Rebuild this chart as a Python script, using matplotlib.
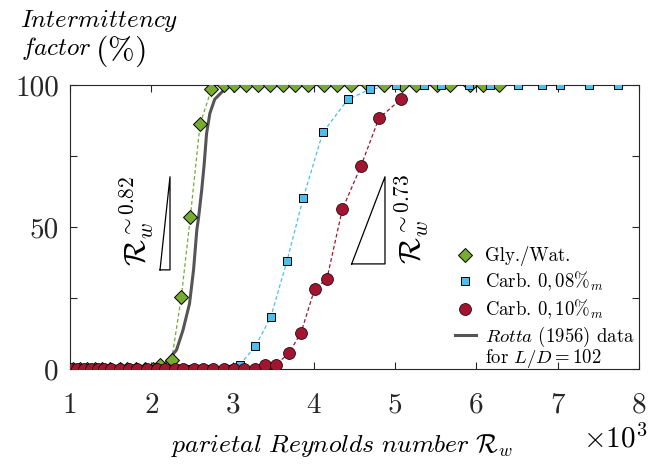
import numpy as np
import matplotlib
matplotlib.use("Agg")
import matplotlib.pyplot as plt

plt.rcParams["font.family"] = "serif"
plt.rcParams["font.serif"] = ["cmr10"]
plt.rcParams["mathtext.fontset"] = "cm"
plt.rcParams["axes.formatter.use_mathtext"] = True
plt.rcParams["axes.unicode_minus"] = False

# Gly./Wat. (x in 10^3)
gly_x = [1.04, 1.12, 1.21, 1.31, 1.39, 1.49, 1.61, 1.70, 1.81, 1.92, 2.02, 2.11, 2.25,
         2.37, 2.48, 2.60, 2.74, 2.89, 3.02, 3.16, 3.31, 3.46, 3.62, 3.77, 3.93, 4.12,
         4.29, 4.46, 4.67, 4.86, 5.08, 5.26, 5.51, 5.68, 5.92, 6.08, 6.28]
gly_y = [0, 0, 0, 0, 0, 0, 0, 0, 0, 0, 0, 1.5, 3.2,
         25.5, 53.6, 86.3, 98.5, 100, 100, 100, 100, 100, 100, 100, 100, 100,
         100, 100, 100, 100, 100, 100, 100, 100, 100, 100, 100]

# Carb. 0,08%
c08_x = [1.0, 1.2, 1.4, 1.6, 1.8, 2.0, 2.2, 2.45, 2.7, 2.94, 3.09, 3.28, 3.47, 3.67,
         3.87, 4.11, 4.42, 4.69, 5.01, 5.35, 5.56, 5.91, 6.17, 6.51, 6.81, 7.03, 7.39, 7.74]
c08_y = [0, 0, 0, 0, 0, 0, 0, 0, 0, 0, 1.5, 8.0, 18.3, 38.1,
         60.3, 83.3, 95.0, 98.5, 100, 100, 100, 100, 100, 100, 100, 100, 100, 100]

# Carb. 0,10%
c10_x = [1.00, 1.08, 1.17, 1.26, 1.34, 1.42, 1.51, 1.62, 1.72, 1.83, 1.95, 2.07, 2.17,
         2.29, 2.39, 2.52, 2.64, 2.76, 2.89, 3.02, 3.14, 3.28, 3.40, 3.53, 3.69, 3.84,
         4.01, 4.16, 4.35, 4.58, 4.80, 5.07]
c10_y = [0, 0, 0, 0, 0, 0, 0, 0, 0, 0, 0, 0, 0,
         0, 0, 0, 0, 0, 0, 0, 0, 0, 1.4, 1.4, 5.5, 12.6,
         28.2, 31.7, 56.2, 71.5, 88.3, 95.0]

# Rotta (1956), L/D = 102
rotta_x = [2.15, 2.21, 2.31, 2.39, 2.47, 2.52, 2.56, 2.58, 2.62, 2.65, 2.68, 2.72, 2.78, 2.87]
rotta_y = [1.4, 3.2, 6.7, 13.7, 23.0, 35.0, 49.0, 53.0, 63.0, 72.0, 83.0, 90.0, 95.0, 97.6]

# slope triangles
tri1_x = [2.107, 2.23, 2.23, 2.107]
tri1_y = [34.9, 34.9, 67.7, 34.9]
tri2_x = [4.465, 4.875, 4.875, 4.465]
tri2_y = [37.0, 37.0, 67.7, 37.0]

green = "#77AC30"
blue = "#4DBEEE"
red = "#A2142F"
grey = "#555555"

fig = plt.figure(figsize=(6.67, 4.7), dpi=100)
ax = fig.add_axes([0.105, 0.215, 0.853, 0.604])

# fit lines (dotted)
ax.plot(gly_x[11:17], gly_y[11:17], ls=(0, (3, 2)), color=green, lw=0.9)
ax.plot(c08_x[10:19], c08_y[10:19], ls=(0, (3, 2)), color=blue, lw=0.9)
ax.plot(c10_x[22:], c10_y[22:], ls=(0, (3, 2)), color=red, lw=0.9)

ax.plot(gly_x, gly_y, "D", ms=7.6, mfc=green, mec="k", mew=0.7, ls="none",
        label="Gly./Wat.", zorder=3)
ax.plot(c08_x, c08_y, "s", ms=6.4, mfc=blue, mec="k", mew=0.7, ls="none",
        label=r"Carb. $0,08\%_m$", zorder=3)
ax.plot(c10_x, c10_y, "o", ms=8.6, mfc=red, mec="k", mew=0.5, ls="none",
        label=r"Carb. $0,10\%_m$", zorder=3)
ax.plot(rotta_x, rotta_y, "-", color=grey, lw=2.2,
        label="$\\it{Rotta}$ (1956) data", zorder=2.5)

ax.plot(tri1_x, tri1_y, color="k", lw=0.9)
ax.plot(tri2_x, tri2_y, color="k", lw=0.9)
ax.text(1.82, 52, r"$\mathcal{R}_w^{\sim 0.82}$", rotation=90, ha="center",
        va="center", fontsize=22)
ax.text(5.20, 53, r"$\mathcal{R}_w^{\sim 0.73}$", rotation=90, ha="center",
        va="center", fontsize=22)

ax.set_xlim(1, 8)
ax.set_ylim(0, 100)
ax.set_xticks(range(1, 9))
ax.set_xticklabels([str(i) for i in range(1, 9)])
ax.set_yticks([0, 25, 50, 75, 100])
ax.set_yticklabels(["0", "", "50", "", "100"])
ax.tick_params(direction="in", top=True, right=True, length=5, width=0.8,
               labelsize=21, colors="#262626", pad=8)
ax.tick_params(axis="x", pad=17)
for s in ax.spines.values():
    s.set_color("#262626")
    s.set_linewidth(0.8)

fig.text(0.03, 0.943, r"$Intermittency$", fontsize=18)
fig.text(0.031, 0.883, r"$factor$", fontsize=18)
fig.text(0.142, 0.874, r"$(\%)$", fontsize=23)

fig.text(0.513, 0.038, r"$parietal\ Reynolds\ number\ \mathcal{R}_w$",
         fontsize=18.5, ha="center")
fig.text(0.874, 0.047, r"$\times10^3$", fontsize=21)

leg = ax.legend(loc="upper left", bbox_to_anchor=(0.682, 0.476),
                bbox_transform=fig.transFigure, frameon=False, fontsize=13.5,
                borderpad=0, handlelength=1.1, handletextpad=0.5,
                labelspacing=0.22, borderaxespad=0)

# second line of the Rotta legend entry, aligned under the first
fig.canvas.draw()
bb = leg.get_texts()[-1].get_window_extent().transformed(fig.transFigure.inverted())
fig.text(bb.x0, bb.y0 + 0.004, r"for $L/D=102$", fontsize=13.5, va="top")

fig.savefig("out.png", dpi=100)
